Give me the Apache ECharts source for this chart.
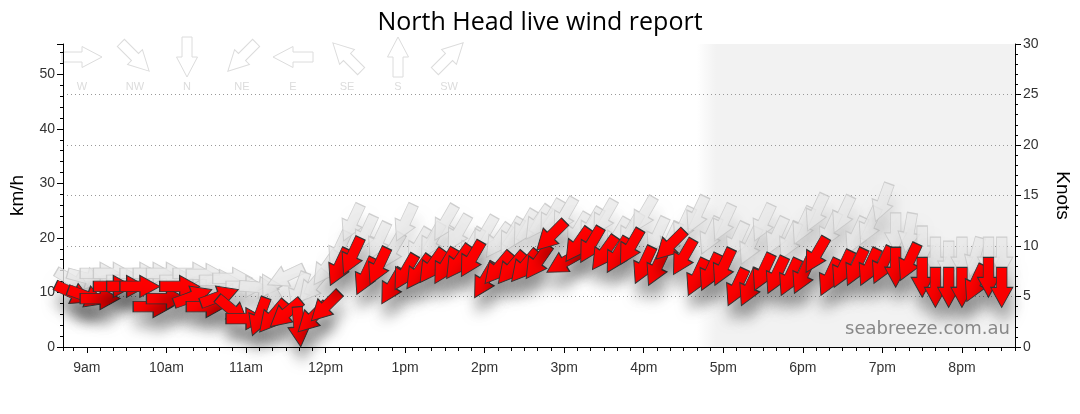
<!DOCTYPE html>
<html><head><meta charset="utf-8">
<script src="https://cdn.jsdelivr.net/npm/echarts@6/dist/echarts.min.js"></script>
<style>html,body{margin:0;padding:0;background:#fff}#c{width:1080px;height:414px}</style>
</head><body><div id="c"></div>
<script>
const times = ['08:50','09:00','09:10','09:20','09:30','09:40','09:50','10:00','10:10','10:20','10:30','10:40','10:50',
'11:00','11:10','11:20','11:30','11:40','11:50','12:00','12:10','12:20','12:30','12:40','12:50',
'13:00','13:10','13:20','13:30','13:40','13:50','14:00','14:10','14:20','14:30','14:40','14:50',
'15:00','15:10','15:20','15:30','15:40','15:50','16:00','16:10','16:20','16:30','16:40','16:50',
'17:00','17:10','17:20','17:30','17:40','17:50','18:00','18:10','18:20','18:30','18:40','18:50',
'19:00','19:10','19:20','19:30','19:40','19:50','20:00','20:10','20:20','20:30'];
const avgKnots = [5.3,5.0,4.8,6.0,6.0,6.0,4.0,4.8,6.0,5.0,4.0,5.0,3.6,
2.8,3.0,3.0,3.3,2.0,2.9,4.0,7.9,9.0,7.0,8.0,6.0,
7.4,7.4,8.0,8.0,8.4,8.7,6.6,7.8,7.8,8.0,8.4,11.0,
8.4,10.1,10.1,9.3,9.1,9.9,8.1,7.9,10.1,8.9,6.9,7.4,
7.9,5.9,5.9,7.4,7.1,6.9,7.1,9.1,6.9,7.7,7.9,7.9,
8.1,7.9,8.4,6.9,5.9,5.9,5.9,6.3,6.9,5.9];
const avgDir = [295,290,270,270,270,270,270,270,270,250,270,250,310,
270,20,40,50,355,45,45,25,25,25,25,30,
30,35,35,30,35,30,30,40,40,40,35,45,
60,35,30,35,30,30,25,25,45,30,25,25,
25,25,25,25,25,25,25,30,25,25,25,25,
25,0,25,0,0,0,0,25,0,0];
const gustKnots = [6.5,6.8,7.3,7.3,6.6,7.3,7.3,7.3,6.6,7.3,7.2,6.6,6.8,
6.0,5.9,5.5,7.0,5.5,6.0,7.8,9.6,12.3,11.2,10.5,9.5,
12.3,10.0,10.5,12.3,11.3,10.0,11.2,10.5,11.0,11.8,12.3,12.8,
13.0,11.5,12.0,12.8,11.0,11.5,13.1,11.0,10.5,12.0,13.1,11.0,
12.3,10.5,10.0,12.3,11.0,10.5,12.0,13.3,11.5,13.1,11.0,12.0,
14.3,11.3,11.3,10.0,8.9,8.5,8.9,8.9,8.9,8.9];
const gustDir = [300,285,270,270,270,270,270,270,270,270,270,270,270,
270,275,150,65,20,40,35,25,25,25,25,30,
25,30,30,30,30,30,30,35,30,30,35,30,
30,30,30,30,30,30,30,25,25,25,25,25,
25,25,25,25,25,25,25,25,25,25,25,25,
20,0,10,0,0,0,0,15,0,0];
const legendNames = ['W','NW','N','NE','E','SE','S','SW'];
const legendFrom = [270,315,0,45,90,135,180,225];
const axisStart = '08:42', axisEnd = '20:40', nightStart = '16:40';
const KMH_PER_KNOT = 1.852;

const ts = t => new Date('2024-03-01T' + t + ':00').getTime();
const ARROW = 'M10.5,0 L21,20 L15.5,20 L15.5,40 L5.5,40 L5.5,20 L0,20 Z';
const ARROW_PTS = [[0,-20],[10.5,0],[5,0],[5,20],[-5,20],[-5,0],[-10.5,0]];
const rot = d => -(d + 180);

const avgData = times.map((t, i) => ({ value: [ts(t), avgKnots[i]], symbolRotate: rot(avgDir[i]) }));
const gustData = times.map((t, i) => ({ value: [ts(t), gustKnots[i]], symbolRotate: rot(gustDir[i]) }));

const legendX = [82, 135, 187, 242, 293, 347, 398, 449];
const graphics = [];
legendNames.forEach((n, i) => {
  graphics.push({ type: 'polygon', x: legendX[i], y: 57, rotation: rot(legendFrom[i]) * Math.PI / 180, silent: true,
    shape: { points: ARROW_PTS },
    style: { fill: '#ffffff', stroke: '#dcdcdc', lineWidth: 1 } });
  graphics.push({ type: 'text', x: legendX[i], y: 87, silent: true,
    style: { text: n, fill: '#dcdcdc', font: '11px "Liberation Sans"', textAlign: 'center', textVerticalAlign: 'middle' } });
});
graphics.push({ type: 'text', x: 1010, y: 329, silent: true, z: 100,
  style: { text: 'seabreeze.com.au', fill: '#888888', font: '18px "DejaVu Sans"', textAlign: 'right', textVerticalAlign: 'middle' } });

const hourFmt = v => { const d = new Date(v); if (d.getMinutes() !== 0) return ''; const h = d.getHours(); return (h % 12 || 12) + (h < 12 ? 'am' : 'pm'); };

const chart = echarts.init(document.getElementById('c'));
chart.setOption({
  animation: false,
  backgroundColor: '#ffffff',
  title: { text: 'North Head live wind report', left: 'center', top: 5,
    textStyle: { fontFamily: 'Open Sans', fontSize: 25, fontWeight: 'normal', color: '#000' } },
  grid: { left: 62, right: 61, top: 44, bottom: 67 },
  xAxis: [{
    type: 'time', position: 'bottom', min: ts(axisStart), max: ts(axisEnd), splitNumber: 12,
    minInterval: 3600000, maxInterval: 3600000,
    axisLine: { lineStyle: { color: '#000', width: 1 } },
    axisTick: { show: true, length: 6, lineStyle: { color: '#000' } },
    splitLine: { show: false },
    axisLabel: { margin: 14, fontSize: 14, color: '#333', fontFamily: 'Liberation Sans',
      showMinLabel: false, showMaxLabel: false, formatter: hourFmt }
  }, {
    type: 'time', position: 'bottom', min: ts(axisStart), max: ts(axisEnd), splitNumber: 48,
    minInterval: 900000, maxInterval: 900000,
    axisLine: { show: false },
    axisTick: { show: true, length: 4, lineStyle: { color: '#000' } },
    splitLine: { show: false },
    axisLabel: { show: false }
  }],
  yAxis: [
    { type: 'value', position: 'left', min: 0, max: 30 * KMH_PER_KNOT, interval: 10,
      name: 'km/h', nameLocation: 'middle', nameGap: 36,
      nameTextStyle: { fontSize: 19, color: '#000', fontFamily: 'Liberation Sans' },
      axisLine: { show: true, lineStyle: { color: '#000' } },
      axisTick: { show: true, length: 6, lineStyle: { color: '#000' } },
      minorTick: { show: true, splitNumber: 5, length: 3, lineStyle: { color: '#000' } },
      splitLine: { show: false },
      axisLabel: { margin: 8, fontSize: 14, color: '#333', fontFamily: 'Liberation Sans',
        formatter: v => (Math.abs(v % 10) < 1e-6 ? String(v) : '') } },
    { type: 'value', position: 'right', min: 0, max: 30, interval: 5,
      name: 'Knots', nameLocation: 'middle', nameGap: 38, nameRotate: -90,
      nameTextStyle: { fontSize: 19, color: '#000', fontFamily: 'Liberation Sans' },
      axisLine: { show: true, lineStyle: { color: '#000' } },
      axisTick: { show: true, length: 6, lineStyle: { color: '#000' } },
      minorTick: { show: true, splitNumber: 5, length: 3, lineStyle: { color: '#000' } },
      splitLine: { show: true, showMinLine: false, showMaxLine: false, lineStyle: { type: [1, 3], color: '#999', width: 1 } },
      axisLabel: { margin: 8, fontSize: 14, color: '#333', fontFamily: 'Liberation Sans' } }
  ],
  graphic: graphics,
  series: [
    { name: 'Gust', type: 'scatter', yAxisIndex: 1, z: 2, clip: false,
      symbol: 'path://' + ARROW, symbolSize: [22, 40], symbolKeepAspect: false,
      itemStyle: { color: '#e8e8e8', opacity: 0.8, borderColor: '#c4c4c4', borderWidth: 1,
        shadowBlur: 14, shadowColor: 'rgba(0,0,0,0.14)', shadowOffsetX: 2, shadowOffsetY: 15 },
      data: gustData,
      markArea: { silent: true, z: -1,
        itemStyle: { opacity: 1, color: { type: 'linear', x: 0, y: 0, x2: 1, y2: 0,
          colorStops: [{ offset: 0, color: 'rgba(242,242,242,0)' }, { offset: 0.06, color: '#f2f2f2' }, { offset: 1, color: '#f2f2f2' }] } },
        data: [[{ xAxis: ts(nightStart) }, { xAxis: ts(axisEnd) }]] } },
    { name: 'Average', type: 'scatter', yAxisIndex: 1, z: 3, clip: false,
      symbol: 'path://' + ARROW, symbolSize: [22, 40], symbolKeepAspect: false,
      itemStyle: { color: '#ff0000', opacity: 1, borderColor: '#333', borderWidth: 1,
        shadowBlur: 14, shadowColor: 'rgba(0,0,0,0.32)', shadowOffsetX: 2, shadowOffsetY: 15 },
      data: avgData }
  ]
});
</script></body></html>
